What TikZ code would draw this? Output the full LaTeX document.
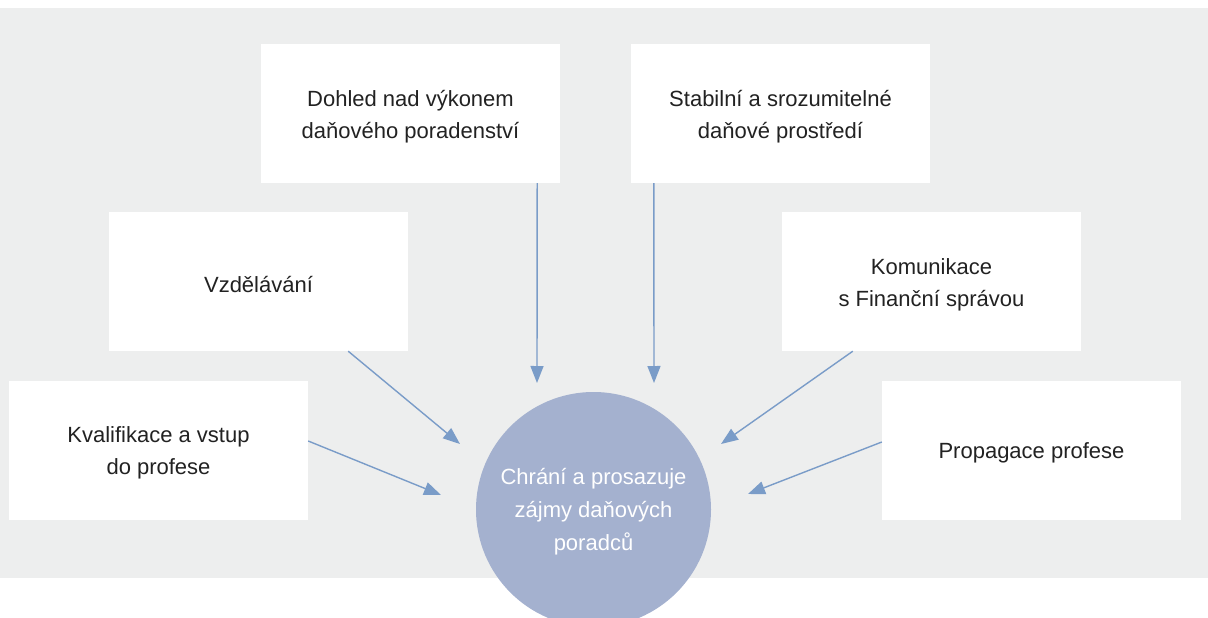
\documentclass[tikz,border=0pt]{standalone}
\usepackage{fontspec}
\setmainfont{Liberation Sans}
\usetikzlibrary{arrows.meta}
\definecolor{bgc}{HTML}{EDEEEE}
\definecolor{circc}{HTML}{A4B1CF}
\definecolor{arrc}{HTML}{7A9CC8}
\definecolor{txtc}{HTML}{222222}
\begin{document}
\begin{tikzpicture}[x=1pt,y=-1pt,
  box/.style={fill=white, minimum width=299pt, minimum height=139pt, inner sep=0pt},
  boxtext/.style={align=center, font=\fontsize{22}{32}\selectfont, text=txtc, inner sep=0pt, yshift=-3pt},
  arrow/.style={draw=arrc, line width=1.4pt, -{Triangle[length=17pt,width=13pt]}}]
\useasboundingbox (0,0) rectangle (1208,618);
\clip (0,0) rectangle (1208,618);
\fill[bgc] (0,8) rectangle (1208,578);
\node[box, label={[boxtext]center:Dohled nad výkonem\\daňového poradenství}] (dohled) at (410.5,113.5) {};
\node[box, label={[boxtext]center:Stabilní a srozumitelné\\daňové prostředí}] (stab) at (780.5,113.5) {};
\node[box, label={[boxtext]center:Vzdělávání}] (vzd) at (258.5,281.5) {};
\node[box, label={[boxtext]center:Komunikace\\s Finanční správou}] (kom) at (931.5,281.5) {};
\node[box, label={[boxtext]center:Kvalifikace a vstup\\do profese}] (kval) at (158.5,450) {};
\node[box, label={[boxtext]center:Propagace profese}] (prop) at (1031.5,450) {};
\node[circle, fill=circc, minimum size=235pt, inner sep=0pt,
  label={[align=center, text=white, font=\fontsize{22}{33}\selectfont, yshift=-2pt]center:Chrání a prosazuje\\zájmy daňových\\poradců}] (c) at (593.5,509.5) {};
\coordinate (t1) at (537,383);
\coordinate (t2) at (654,383);
\coordinate (t3) at (460,444);
\coordinate (t4) at (721,444);
\coordinate (t5) at (441,495);
\coordinate (t6) at (748,494);
\draw[arrow] ([xshift=-23pt]dohled.south east) -- (t1);
\draw[arrow] ([xshift=23pt]stab.south west) -- (t2);
\draw[arrow] ([xshift=-60pt]vzd.south east) -- (t3);
\draw[arrow] ([xshift=71pt]kom.south west) -- (t4);
\draw[arrow] ([yshift=9pt]kval.east) -- (t5);
\draw[arrow] ([yshift=8pt]prop.west) -- (t6);
\end{tikzpicture}
\end{document}
